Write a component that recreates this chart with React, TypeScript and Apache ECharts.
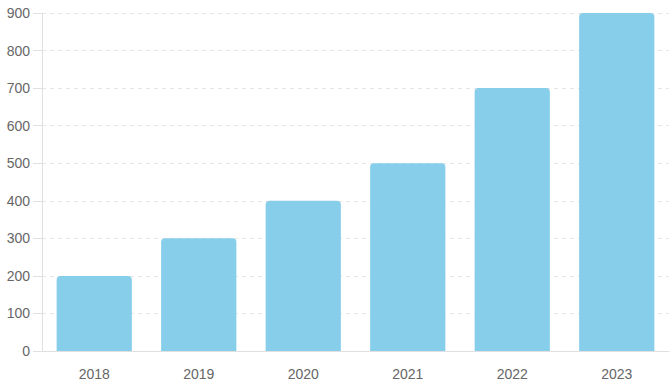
import React, { useEffect, useRef } from "react";
import * as echarts from "echarts";

const categories = ["2018", "2019", "2020", "2021", "2022", "2023"];
const values = [200, 300, 400, 500, 700, 900];

export default function App() {
  const ref = useRef<HTMLDivElement>(null);
  useEffect(() => {
    if (!ref.current) return;
    const chart = echarts.init(ref.current, null, { renderer: "svg" });
    chart.setOption({
      animation: false,
      grid: { left: 42, right: 1, top: 13, bottom: 36, containLabel: false },
      xAxis: {
        type: "category",
        data: categories,
        axisLine: { show: true, lineStyle: { color: "#e0e0e0" } },
        axisTick: { show: false },
        axisLabel: { color: "#666", fontSize: 14, margin: 16, fontFamily: "Liberation Sans, Arial, sans-serif" },
      },
      yAxis: {
        type: "value",
        min: 0,
        max: 900,
        interval: 100,
        axisLine: { show: true, lineStyle: { color: "#e0e0e0" } },
        axisTick: { show: true, length: 9, lineStyle: { color: "#e0e0e0" } },
        axisLabel: { color: "#666", fontSize: 14, margin: 12, fontFamily: "Liberation Sans, Arial, sans-serif" },
        splitLine: { show: true, lineStyle: { color: "#e6e6e6", type: [4, 4] } },
      },
      series: [
        {
          type: "bar",
          data: values,
          barCategoryGap: "28%",
          itemStyle: { color: "#87CEEB", borderRadius: [4, 4, 0, 0] },
        },
      ],
    });
    return () => chart.dispose();
  }, []);
  return <div ref={ref} style={{ width: 670, height: 387, position: "absolute", left: 0, top: 0 }} />;
}
